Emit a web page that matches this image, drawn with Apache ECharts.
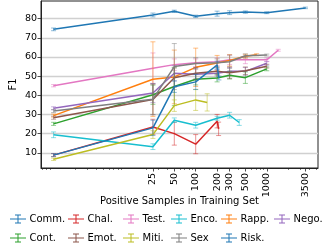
<!DOCTYPE html>
<html><head><meta charset="utf-8">
<script src="https://cdn.jsdelivr.net/npm/echarts@6/dist/echarts.min.js"></script>
<style>html,body{margin:0;padding:0;background:#fff}#c{width:325px;height:243px}</style>
</head><body><div id="c"></div>
<script>
// ---- data ----
const xTickLabels = [25, 50, 100, 200, 300, 500, 1000, 3500];
const xMinorTicks = [0.7,0.8,0.9,2,3,4,5,6,7,8,9,20,30,40,60,70,80,90,400,600,700,800,900,2000,3000,4000,5000];
const yTickLabels = [10, 20, 30, 40, 50, 60, 70, 80];

const commX = [1, 25, 50, 100, 200, 300, 500, 1000, 3500];
const commY = [74.4, 81.9, 83.8, 81.2, 82.6, 83.1, 83.4, 83.1, 85.6];
const commE = [0.7, 1.0, 0.6, 0.6, 1.3, 1.0, 0.6, 0.5, 0.4];

const chalX = [1, 25, 50, 100, 200, 210];
const chalY = [8.8, 23.5, 20.0, 14.5, 26.5, 22.5];
const chalE = [0.8, 4.0, 6.0, 5.0, 3.5, 3.5];

const testX = [1, 25, 50, 100, 200, 300, 500, 1000, 1450];
const testY = [45.0, 54.1, 56.0, 57.0, 57.5, 58.5, 58.5, 58.5, 63.5];
const testE = [0.6, 8.0, 3.0, 2.0, 2.0, 2.5, 2.0, 1.0, 0.5];

const encoX = [1, 25, 50, 100, 200, 300, 410];
const encoY = [19.4, 13.2, 27.0, 24.4, 28.0, 29.6, 25.8];
const encoE = [1.5, 1.5, 1.2, 1.5, 1.0, 1.5, 1.5];

const rappX = [1, 25, 50, 100, 200, 300, 500, 720];
const rappY = [29.4, 48.4, 49.6, 54.6, 56.8, 58.2, 60.4, 61.2];
const rappE = [0.8, 19.5, 14.0, 10.0, 4.0, 3.0, 1.0, 0.5];

const negoX = [1, 25, 50, 100, 200, 300, 500, 1000];
const negoY = [33.2, 41.2, 51.5, 51.0, 51.5, 52.5, 52.5, 56.7];
const negoE = [0.8, 5.0, 4.0, 3.0, 2.0, 2.0, 2.0, 1.0];

const contX = [1, 25, 50, 100, 200, 300, 500, 1000];
const contY = [25.1, 40.3, 44.6, 48.4, 49.0, 50.5, 49.2, 53.8];
const contE = [0.8, 5.0, 10.0, 3.0, 2.0, 2.0, 3.0, 1.0];

const emotX = [1, 25, 50, 100, 200, 300, 500, 1000];
const emotY = [28.3, 37.8, 49.2, 51.5, 52.5, 51.8, 52.8, 55.2];
const emotE = [0.8, 8.0, 5.0, 3.0, 2.0, 3.0, 2.0, 1.0];

const mitiX = [1, 25, 50, 100, 145];
const mitiY = [6.6, 19.5, 34.6, 37.6, 36.3];
const mitiE = [0.6, 2.0, 3.0, 5.5, 4.5];

const sexX = [1, 25, 50, 100, 200, 300, 500, 1000];
const sexY = [31.8, 38.0, 55.0, 56.6, 57.0, 57.5, 60.6, 61.0];
const sexE = [0.8, 8.0, 12.0, 3.0, 2.0, 3.5, 1.0, 0.5];

const riskX = [1, 25, 50, 100, 200, 212];
const riskY = [8.8, 23.0, 44.5, 47.0, 55.8, 49.0];
const riskE = [0.8, 4.0, 3.0, 4.0, 2.0, 1.0];

const seriesNames = ['Comm.', 'Chal.', 'Test.', 'Enco.', 'Rapp.', 'Nego.', 'Cont.', 'Emot.', 'Miti.', 'Sex', 'Risk.'];
const seriesX = [commX, chalX, testX, encoX, rappX, negoX, contX, emotX, mitiX, sexX, riskX];
const seriesY = [commY, chalY, testY, encoY, rappY, negoY, contY, emotY, mitiY, sexY, riskY];
const seriesE = [commE, chalE, testE, encoE, rappE, negoE, contE, emotE, mitiE, sexE, riskE];
const seriesColors = ['#1f77b4', '#d62728', '#e377c2', '#17becf', '#ff7f0e', '#9467bd', '#2ca02c', '#8c564b', '#bcbd22', '#7f7f7f', '#1f77b4'];

// ---- chart ----
const FONT = 'DejaVu Sans';
function rgba(hex, a) {
  const n = parseInt(hex.slice(1), 16);
  return 'rgba(' + (n >> 16) + ',' + ((n >> 8) & 255) + ',' + (n & 255) + ',' + a + ')';
}
function errRender(color) {
  const stroke = rgba(color, 0.5);
  return function (params, api) {
    const x = api.value(0), lo = api.value(1), hi = api.value(2);
    const p1 = api.coord([x, lo]), p2 = api.coord([x, hi]);
    const cw = 2.5;
    const style = { stroke: stroke, lineWidth: 1, fill: null };
    return {
      type: 'group', children: [
        { type: 'line', shape: { x1: p1[0], y1: p1[1], x2: p2[0], y2: p2[1] }, style: style },
        { type: 'line', shape: { x1: p1[0] - cw, y1: p1[1], x2: p1[0] + cw, y2: p1[1] }, style: style },
        { type: 'line', shape: { x1: p2[0] - cw, y1: p2[1], x2: p2[0] + cw, y2: p2[1] }, style: style }
      ]
    };
  };
}

const series = [];
seriesNames.forEach(function (name, i) {
  const xs = seriesX[i], ys = seriesY[i], es = seriesE[i], col = seriesColors[i];
  series.push({
    name: 'err ' + name, type: 'custom', xAxisIndex: 0, yAxisIndex: 0,
    renderItem: errRender(col), encode: { x: 0, y: [1, 2] },
    data: xs.map(function (x, k) { return [x, ys[k] - es[k], ys[k] + es[k]]; }),
    z: 2 + i * 2, silent: true
  });
  series.push({
    name: name, type: 'line', xAxisIndex: 0, yAxisIndex: 0,
    data: xs.map(function (x, k) { return [x, ys[k]]; }),
    symbol: 'none', lineStyle: { color: col, width: 1.5 }, itemStyle: { color: col },
    z: 3 + i * 2, silent: true
  });
});

const legendIcon = 'path://M0,4h7.5V1h-2.5V0h6v1h-2.5v3h7.5v1h-7.5v3h2.5v1h-6v-1h2.5v-3H0z';
const legendCols = [['Comm.', 'Cont.'], ['Chal.', 'Emot.'], ['Test.', 'Miti.'], ['Enco.', 'Sex'], ['Rapp.', 'Risk.'], ['Nego.']];
const legendLefts = [10, 68, 123, 171, 221, 274];
const legends = legendCols.map(function (col, i) {
  return {
    orient: 'vertical', left: legendLefts[i], top: 214, itemGap: 9,
    itemWidth: 17, itemHeight: 9, padding: 0, icon: legendIcon,
    data: col, selectedMode: false,
    textStyle: { fontFamily: FONT, fontSize: 10, color: '#000', padding: [0, 0, 0, -2] }
  };
});

const xMin = Math.pow(10, -0.177), xMax = Math.pow(10, 3.721);
const option = {
  animation: false,
  backgroundColor: '#fff',
  grid: { left: 31, right: 7, top: 1, bottom: 75, show: true, borderColor: '#222', borderWidth: 1, backgroundColor: 'transparent' },
  legend: legends,
  xAxis: [{
    type: 'log', logBase: 10, min: xMin, max: xMax, position: 'bottom',
    name: 'Positive Samples in Training Set', nameLocation: 'middle', nameGap: 28, nameMoveOverlap: false,
    nameTextStyle: { fontFamily: FONT, fontSize: 10, color: '#000', verticalAlign: 'top' },
    axisLine: { show: true, lineStyle: { color: '#222', width: 1 } },
    axisTick: { show: true, length: 3.5, customValues: xTickLabels, lineStyle: { color: '#222', width: 0.8 } },
    axisLabel: { show: true, customValues: xTickLabels, rotate: 90, fontFamily: FONT, fontSize: 9.5, color: '#000', margin: 5,
      formatter: function (v) { return String(Math.round(v)); } },
    splitLine: { show: false }, minorTick: { show: false }, minorSplitLine: { show: false }
  }, {
    type: 'log', logBase: 10, min: xMin, max: xMax, position: 'bottom',
    axisLine: { show: false },
    axisTick: { show: true, length: 2, customValues: xMinorTicks, lineStyle: { color: '#222', width: 0.6 } },
    axisLabel: { show: false, customValues: xMinorTicks },
    splitLine: { show: false }
  }],
  yAxis: [{
    type: 'value', min: 2.07, max: 89.2,
    name: 'F1', nameLocation: 'middle', nameGap: 23, nameMoveOverlap: false,
    nameTextStyle: { fontFamily: FONT, fontSize: 10, color: '#000' },
    axisLine: { show: true, lineStyle: { color: '#222', width: 1 } },
    axisTick: { show: true, length: 3.5, customValues: yTickLabels, lineStyle: { color: '#222', width: 0.8 } },
    axisLabel: { show: true, customValues: yTickLabels, fontFamily: FONT, fontSize: 9.5, color: '#000', margin: 4 },
    splitLine: { show: true, lineStyle: { color: '#d0d0d0', width: 1.4 } }
  }],
  series: series
};
const chart = echarts.init(document.getElementById('c'), null, { renderer: 'canvas' });
chart.setOption(option);
</script>
</body></html>
